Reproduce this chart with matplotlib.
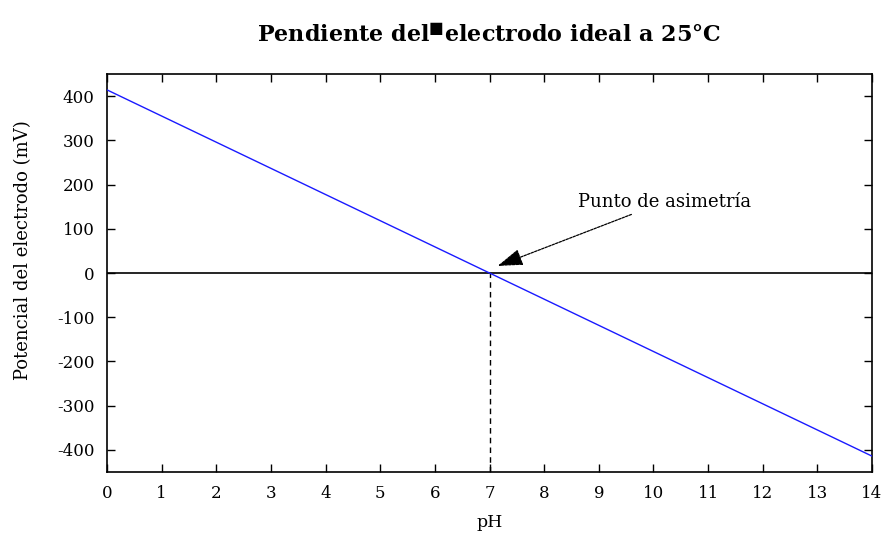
import matplotlib
matplotlib.use("Agg")
import matplotlib.pyplot as plt

plt.rcParams["axes.unicode_minus"] = False
plt.rcParams["mathtext.fontset"] = "dejavuserif"

# ideal electrode: E = 59.16 mV/pH * (7 - pH)
PH = [0, 14]
E_MV = [414.1, -414.1]
ISO_PH = 7
XTICKS = list(range(0, 15))
YTICKS = [-400, -300, -200, -100, 0, 100, 200, 300, 400]

TITLE = "Pendiente del$^{\u25a0}$electrodo ideal a 25°C"
XLABEL = "pH"
YLABEL = "Potencial del electrodo (mV)"
NOTE = "Punto de asimetría"

SERIF = ["DejaVu Serif", "Liberation Serif"]

fig = plt.figure(figsize=(8.85, 5.38), dpi=100)
ax = fig.add_axes([107 / 885, 1 - 472 / 538, 765 / 885, 398 / 538])

ax.plot(PH, E_MV, color="#1a1aff", lw=1.0, zorder=3)
ax.axhline(0, color="black", lw=1.2, zorder=2)
ax.plot([ISO_PH, ISO_PH], [-450, 0], color="black", lw=1.0, ls=(0, (4, 3)), zorder=2)

ax.annotate(NOTE, xy=(7.15, 16), xytext=(8.62, 150),
            fontsize=13, family=SERIF, ha="left", va="baseline",
            arrowprops=dict(arrowstyle="-|>,head_length=1.2,head_width=0.4",
                            color="black", lw=0.9, ls=(0, (2, 1)),
                            shrinkA=2, shrinkB=0))

ax.set_xlim(0, 14)
ax.set_ylim(-450, 450)
ax.set_xticks(XTICKS)
ax.set_yticks(YTICKS)
ax.tick_params(direction="in", top=True, right=True, length=6, width=1.0,
               labelsize=12, pad=9)
for lab in ax.get_xticklabels() + ax.get_yticklabels():
    lab.set_family(SERIF)
for s in ax.spines.values():
    s.set_linewidth(1.2)

ax.set_xlabel(XLABEL, fontsize=12.5, family=SERIF)
ax.xaxis.set_label_coords(0.5, -0.105)
ax.set_ylabel(YLABEL, fontsize=13, family=SERIF)
ax.yaxis.set_label_coords(-0.098, 0.558)
fig.text(0.553, 1 - 36 / 538, TITLE, ha="center", va="center",
         fontsize=16, weight="bold", family=SERIF)

fig.savefig("out.png", dpi=100)
